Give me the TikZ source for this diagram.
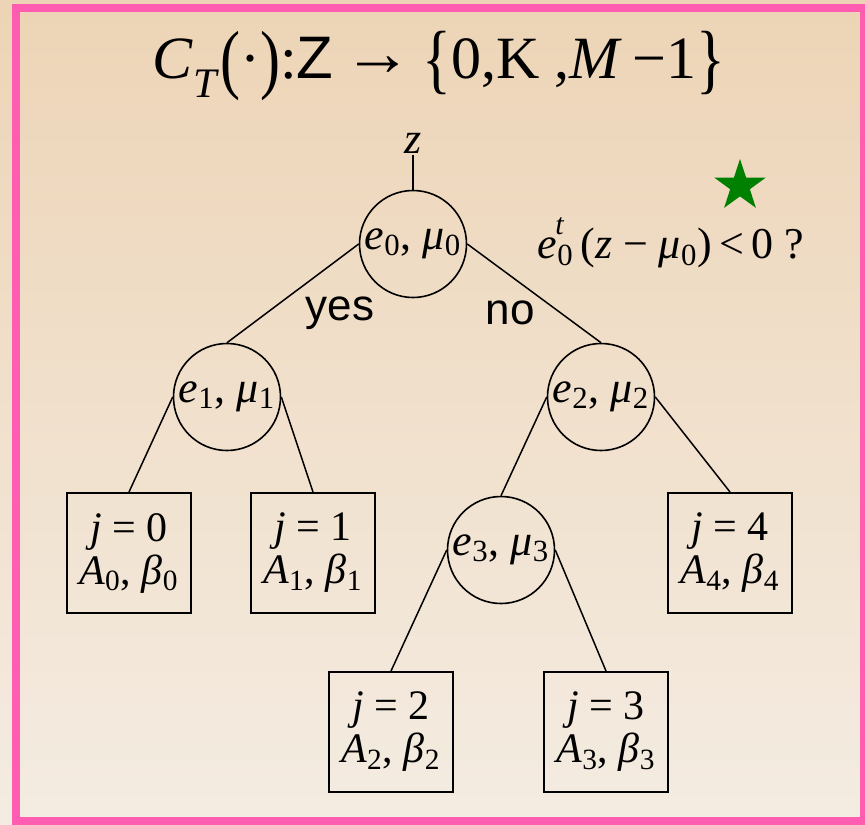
\documentclass[tikz,border=0pt]{standalone}
\usepackage{fontspec}
\usepackage{graphicx}
\setmainfont{Liberation Serif}
\newfontfamily\arialf{Liberation Sans}
\usetikzlibrary{shapes.geometric}
\definecolor{frame}    {HTML}{FF5DB1}
\definecolor{bgtop}    {HTML}{EDD4B6}
\definecolor{bgbot}    {HTML}{F4ECE2}
\definecolor{stargreen}{HTML}{008000}
\newcommand{\ix}[1]{\textit{#1}}
\newcommand{\tallp}[1]{\raisebox{-0.1em}{\scalebox{1}[1.28]{#1}}}
\tikzset{
  split/.style ={circle, draw=black, line width=0.8pt, minimum size=53.5pt,
                 inner sep=0pt, font=\fontsize{22}{22}\selectfont},
  leaf/.style  ={rectangle, draw=black, line width=1pt, minimum width=62pt,
                 minimum height=60pt, inner sep=0pt, align=center,
                 font=\fontsize{21}{21.5}\selectfont},
  edge/.style  ={line width=0.75pt},
  ans/.style   ={font=\arialf\fontsize{22}{22}\selectfont},
}

\begin{document}
\begin{tikzpicture}[x=0.5pt,y=-0.5pt]
  % background and frame
  \useasboundingbox (0,0) rectangle (865,824);
  \shade[top color=bgtop, bottom color=bgbot] (0,0) rectangle (865,824);
  \draw[frame, line width=4pt] (16,8) rectangle (864,821);

  \node (title) at (439,66)
    {\fontsize{30}{30}\selectfont \ix{C}\raisebox{-0.15em}{\textsubscript{\ix{T}}}\tallp{(}·\tallp{)}:{\arialf Z}\,\raisebox{0.05em}{\scalebox{1.15}[1.1]{→}}\,\tallp{\{}0,K\ ,\ix{M}\,−1\tallp{\}}};

  \node[font=\fontsize{22}{22}\selectfont, inner sep=1pt] (z) at (413,143) {\ix{z}};

  \node[split] (n0) at (413,244) {\ix{e}\textsubscript{0}, \ix{μ}\textsubscript{0}};
  \node[split] (n1) at (227,397) {\ix{e}\textsubscript{1}, \ix{μ}\textsubscript{1}};
  \node[split] (n2) at (601,397) {\ix{e}\textsubscript{2}, \ix{μ}\textsubscript{2}};
  \node[split] (n3) at (501,550) {\ix{e}\textsubscript{3}, \ix{μ}\textsubscript{3}};

  \node[leaf] (j0) at (129,553) {\ix{j} = 0\\\ix{A}\textsubscript{0}, \ix{β}\textsubscript{0}};
  \node[leaf] (j1) at (313,553) {\ix{j} = 1\\\ix{A}\textsubscript{1}, \ix{β}\textsubscript{1}};
  \node[leaf] (j4) at (730,553) {\ix{j} = 4\\\ix{A}\textsubscript{4}, \ix{β}\textsubscript{4}};
  \node[leaf] (j2) at (391,732) {\ix{j} = 2\\\ix{A}\textsubscript{2}, \ix{β}\textsubscript{2}};
  \node[leaf] (j3) at (606,732) {\ix{j} = 3\\\ix{A}\textsubscript{3}, \ix{β}\textsubscript{3}};

  \node[font=\fontsize{22}{22}\selectfont] (test) at (671,243)
    {\ix{e}\textsubscript{0}\kern-0.42em\raisebox{0.55em}{\fontsize{15}{15}\selectfont\ix{t}}\kern0.2em\,(\ix{z} − \ix{μ}\textsubscript{0})\,<\,0 ?};
  \node[star, star points=5, star point ratio=2.6, fill=stargreen,
        minimum size=27pt, inner sep=0pt] (mark) at (740,186) {};

  \node[ans] (yes) at (340,313) {yes};
  \node[ans] (no)  at (510,313) {no};

  \draw[edge] (z) -- (n0.north);
  \draw[edge] (n0.west) -- (n1.north);
  \draw[edge] (n0.east) -- (n2.north);
  \draw[edge] (n1.west) -- (j0.north);
  \draw[edge] (n1.east) -- (j1.north);
  \draw[edge] (n2.west) -- (n3.north);
  \draw[edge] (n2.east) -- (j4.north);
  \draw[edge] (n3.west) -- (j2.north);
  \draw[edge] (n3.east) -- (j3.north);
\end{tikzpicture}
\end{document}
